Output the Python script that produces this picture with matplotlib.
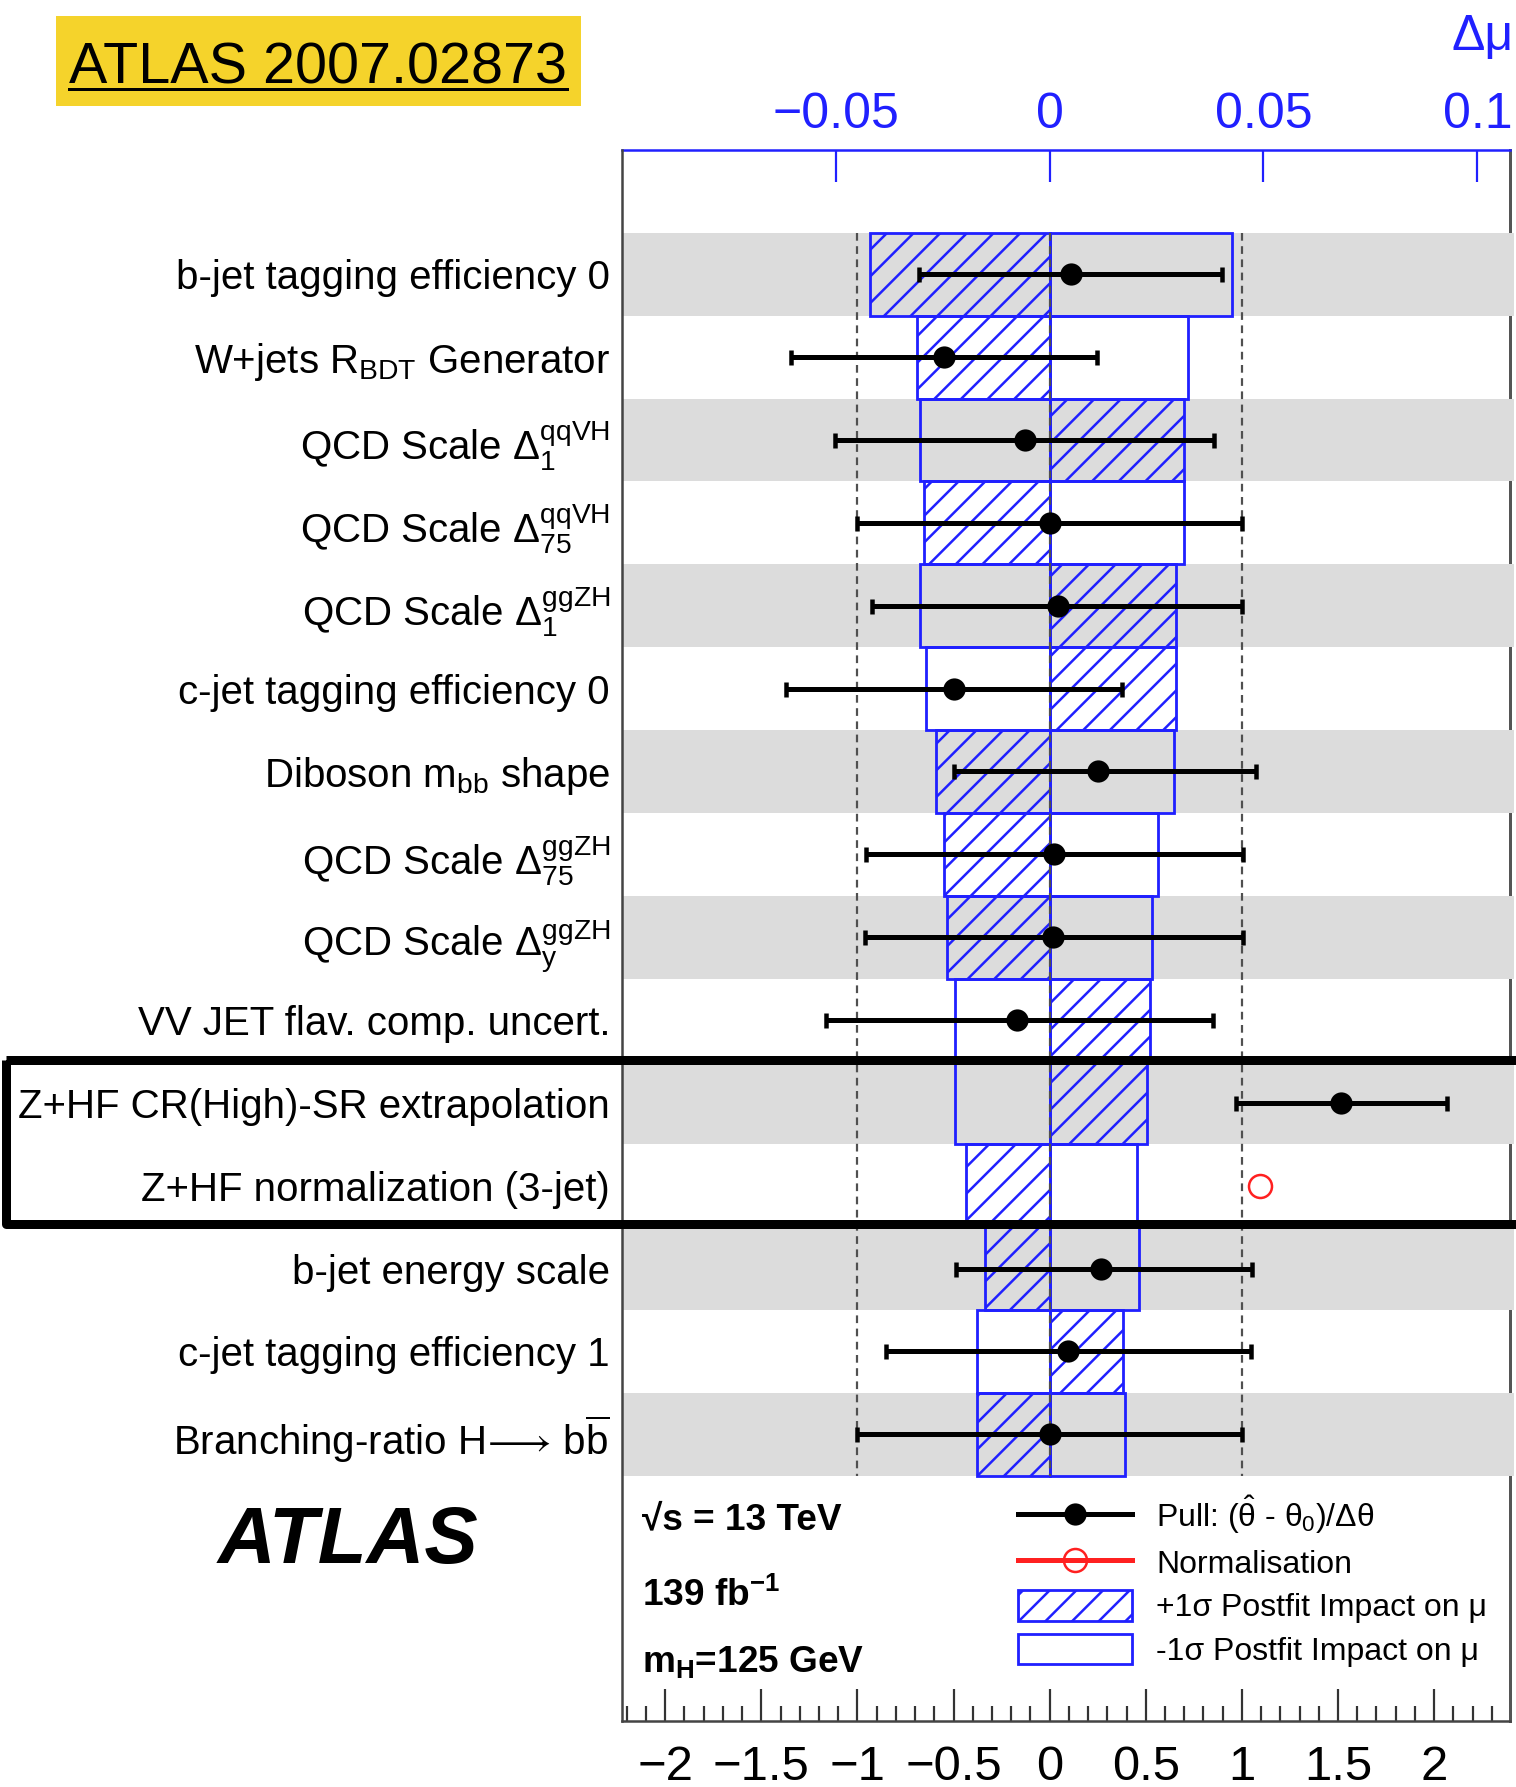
import numpy as np
import matplotlib
matplotlib.use('Agg')
import matplotlib.pyplot as plt
from matplotlib.patches import Rectangle, Patch
from matplotlib.lines import Line2D
from matplotlib.transforms import blended_transform_factory

params = [
    'b-jet tagging efficiency 0',
    r'W+jets R$_{\rm BDT}$ Generator',
    r'QCD Scale $\Delta_{1}^{\rm qqVH}$',
    r'QCD Scale $\Delta_{75}^{\rm qqVH}$',
    r'QCD Scale $\Delta_{1}^{\rm ggZH}$',
    'c-jet tagging efficiency 0',
    r'Diboson m$_{\rm bb}$ shape',
    r'QCD Scale $\Delta_{75}^{\rm ggZH}$',
    r'QCD Scale $\Delta_{\rm y}^{\rm ggZH}$',
    'VV JET flav. comp. uncert.',
    'Z+HF CR(High)-SR extrapolation',
    'Z+HF normalization (3-jet)',
    'b-jet energy scale',
    'c-jet tagging efficiency 1',
    r'Branching-ratio H$\!\longrightarrow\!$ b$\overline{\rm b}$',
]
nan = np.nan
pull = np.array([0.11, -0.55, -0.127, 0.0, 0.043, -0.498, 0.253, 0.025, 0.019,
                 -0.172, 1.517, nan, 0.266, 0.095, 0.0])
pull_lo = np.array([-0.68, -1.344, -1.116, -1.0, -0.925, -1.37, -0.498, -0.955, -0.96,
                    -1.164, 0.969, nan, -0.486, -0.851, -1.0])
pull_hi = np.array([0.895, 0.244, 0.855, 1.0, 1.0, 0.378, 1.072, 1.007, 1.007,
                    0.85, 2.065, nan, 1.054, 1.048, 1.0])
norm = np.array([nan] * 11 + [1.092] + [nan] * 3)

# +1 sigma (hatched) and -1 sigma (open) postfit impact on mu
impact_up = np.array([-0.0419, -0.0311, 0.0313, -0.0293, 0.0296, 0.0296, -0.0266, -0.0248,
                      -0.0240, 0.0235, 0.0228, -0.0196, -0.0152, 0.0171, -0.0170])
impact_dn = np.array([0.0427, 0.0324, -0.0303, 0.0313, -0.0303, -0.0290, 0.0290, 0.0253,
                      0.0239, -0.0222, -0.0222, 0.0204, 0.0209, -0.0170, 0.0176])

pull_ticks = [-2, -1.5, -1, -0.5, 0, 0.5, 1, 1.5, 2]
pull_ticklabels = ['\u22122', '\u22121.5', '\u22121', '\u22120.5', '0', '0.5', '1', '1.5', '2']
mu_ticks = [-0.05, 0, 0.05, 0.1]
mu_ticklabels = ['\u22120.05', '0', '0.05', '0.1']
mu_scale = 22.25          # pull units per unit of delta mu on the top axis
pull_range = (-2.225, 2.395)

# ---- style ----
W, H, DPI = 1516, 1787, 160
BLUE = '#2020ff'
RED = '#ff2020'
GRAY = '#dcdcdc'


def px(v):
    """pixels -> points"""
    return v * 72.0 / DPI


def fx(x):
    return x / W


def fy(y):
    return 1 - y / H


plt.rcParams['font.family'] = ['Liberation Sans', 'DejaVu Sans']
plt.rcParams['mathtext.fontset'] = 'custom'
plt.rcParams['mathtext.rm'] = 'Liberation Sans'
plt.rcParams['mathtext.it'] = 'Liberation Sans'
plt.rcParams['mathtext.bf'] = 'Liberation Sans:bold'
plt.rcParams['mathtext.fallback'] = 'stixsans'
plt.rcParams['hatch.linewidth'] = px(2.5)
plt.rcParams['hatch.color'] = BLUE

fig = plt.figure(figsize=(W / DPI, H / DPI), dpi=DPI)
ax = fig.add_axes([fx(622), fy(1721), (1510 - 622) / W, (1721 - 150) / H])
ax_mu = ax.twiny()
ax.set_zorder(ax_mu.get_zorder() + 1)
ax.patch.set_visible(False)

y = np.arange(len(params))

# alternating grey rows (drawn over the right frame like in the original)
for i in y[::2]:
    ax_mu.axhspan(i - 0.5, i + 0.5, xmin=0, xmax=1.004, color=GRAY, lw=0,
                  zorder=2.6, clip_on=False)

# impact boxes on the delta-mu scale
ax_mu.barh(y, impact_up, height=1.0, left=0, facecolor='none', edgecolor=BLUE,
           hatch='//', lw=px(2.8), zorder=3)
ax_mu.barh(y, impact_dn, height=1.0, left=0, facecolor='none', edgecolor=BLUE,
           lw=px(2.8), zorder=3)

# pulls
ax.vlines([-1, 0, 1], -0.5, len(params) - 0.5, colors='#505050',
          linestyles=(0, (3.5, 2.5)), lw=px(2.2), zorder=4)
m = ~np.isnan(pull)
ax.errorbar(pull[m], y[m], xerr=[pull[m] - pull_lo[m], pull_hi[m] - pull[m]],
            fmt='o', color='black', ms=px(20), elinewidth=px(5), capsize=px(7.5),
            capthick=px(4.5), zorder=5)
ax.plot(norm, y, 'o', mfc='none', mec=RED, ms=px(23), mew=px(2.5), zorder=5)

ax.set_xlim(*pull_range)
ax_mu.set_xlim(pull_range[0] / mu_scale, pull_range[1] / mu_scale)
ax.set_ylim(len(params) - 0.5 + 2.96, -1.5)

# bottom axis (pull)
ax.set_xticks(pull_ticks, pull_ticklabels)
ax.set_xticks(np.arange(-2.2, 2.35, 0.1), minor=True)
ax.tick_params(axis='x', which='major', direction='in', length=px(32), width=px(2.2),
               color='#333333', labelsize=px(49), pad=px(24), top=False)
ax.tick_params(axis='x', which='minor', direction='in', length=px(15), width=px(2.2),
               color='#333333', top=False)
ax.set_yticks(y, params)
ax.tick_params(axis='y', length=0, labelsize=px(40.3), pad=px(12))

# top axis (delta mu)
ax_mu.set_xticks(mu_ticks, mu_ticklabels)
ax_mu.tick_params(axis='x', direction='in', length=px(32), width=px(2.2), color=BLUE,
                  labelcolor=BLUE, labelsize=px(50), pad=px(12))
ax_mu.tick_params(axis='y', left=False, right=False, labelleft=False, labelright=False)

for s in ('top', 'right'):
    ax.spines[s].set_visible(False)
for s in ('left', 'bottom'):
    ax.spines[s].set_color('#444444')
    ax.spines[s].set_linewidth(px(2.5))
    ax_mu.spines[s].set_visible(False)
ax_mu.spines['top'].set_color(BLUE)
ax_mu.spines['top'].set_linewidth(px(2.5))
ax_mu.spines['right'].set_color('#555555')
ax_mu.spines['right'].set_linewidth(px(3))

# legend
handles = [
    Line2D([], [], color='black', lw=px(5), marker='o', ms=px(20)),
    Line2D([], [], color=RED, lw=px(5), marker='o', mfc='none', mec=RED, ms=px(23), mew=px(2.5)),
    Patch(facecolor='none', edgecolor=BLUE, hatch='//', lw=px(2.8)),
    Patch(facecolor='none', edgecolor=BLUE, lw=px(2.8)),
]
labels = [
    r'Pull: ($\hat{\theta}$ - $\theta_{0}$)/$\Delta\theta$',
    'Normalisation',
    '+1\u03c3 Postfit Impact on \u03bc',
    '-1\u03c3 Postfit Impact on \u03bc',
]
ax.legend(handles, labels, loc='upper left', bbox_to_anchor=(fx(1018), fy(1494)),
          bbox_transform=fig.transFigure, frameon=False, fontsize=px(32),
          handlelength=3.57, handleheight=1.1, handletextpad=0.75,
          labelspacing=0.32, borderpad=0, borderaxespad=0)

# plot annotations
fig.text(fx(642), fy(1520), '\u221as = 13 TeV', va='center', ha='left',
         fontweight='bold', fontsize=px(37))
fig.text(fx(642), fy(1596), r'139 fb$^{\mathbf{-1}}$', va='center', ha='left',
         fontweight='bold', fontsize=px(37))
fig.text(fx(642), fy(1662), r'm$_{\mathbf{H}}$=125 GeV', va='center', ha='left',
         fontweight='bold', fontsize=px(37))
fig.text(fx(348), fy(1542), 'ATLAS', ha='center', va='center', fontsize=px(80),
         fontweight='bold', fontstyle='italic')
fig.text(fx(1514), fy(50), '\u0394\u03bc', ha='right', va='baseline', color=BLUE,
         fontsize=px(50))

# yellow reference tag
fig.add_artist(Rectangle((fx(56), fy(106)), 525 / W, 90 / H, transform=fig.transFigure,
                         facecolor='#f5d32b', edgecolor='none'))
tag = fig.text(fx(69), fy(84), 'ATLAS 2007.02873', ha='left', va='baseline',
               fontsize=px(57.5))
fig.canvas.draw()
bb = tag.get_window_extent().transformed(fig.transFigure.inverted())
fig.add_artist(Line2D([bb.x0, bb.x1], [fy(89), fy(89)], transform=fig.transFigure,
                      color='black', lw=px(3)))

# hand-drawn highlight around the Z+HF rows
tr = blended_transform_factory(fig.transFigure, ax.transData)
fig.add_artist(Rectangle((fx(6), 9.48), 1.05 - fx(6), 1.98, transform=tr, fill=False,
                         edgecolor='black', lw=px(9), joinstyle='round', clip_on=False,
                         zorder=10))

fig.savefig('out.png', dpi=DPI)
